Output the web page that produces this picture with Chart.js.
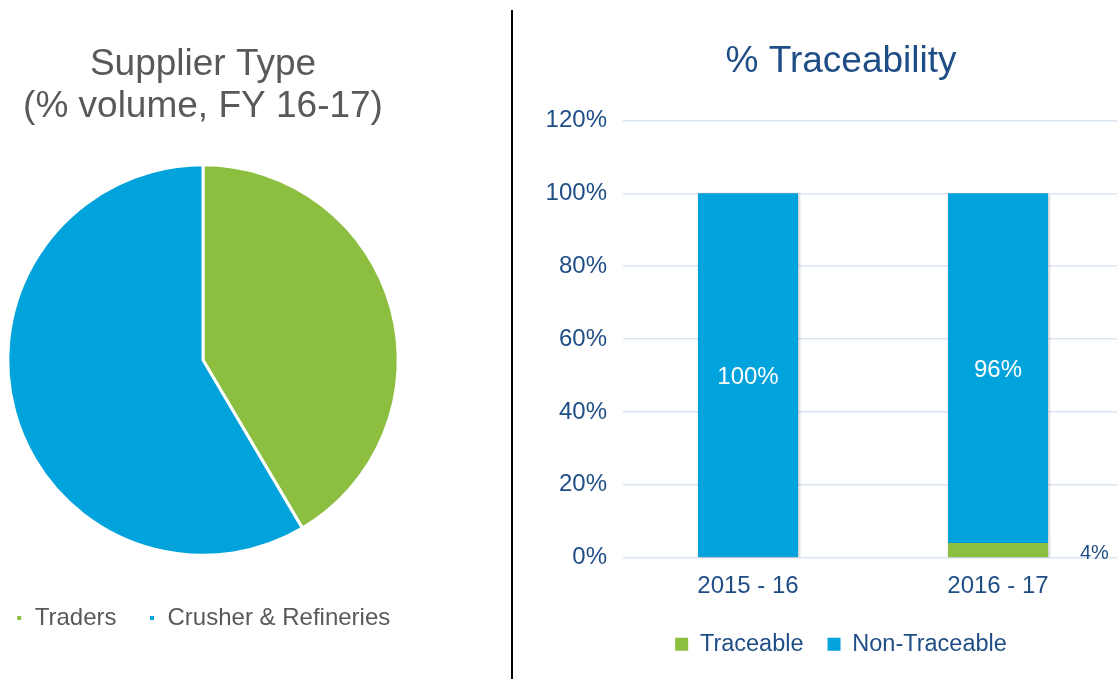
<!DOCTYPE html>
<html>
<head>
<meta charset="utf-8">
<script src="https://cdn.jsdelivr.net/npm/chart.js@4.4.0/dist/chart.umd.min.js"></script>
<style>
  html, body { margin: 0; padding: 0; background: #fff; width: 1117px; height: 679px; overflow: hidden; }
  #pieBox { position: absolute; left: -40px; top: 0; width: 486px; height: 679px; }
  #barBox { position: absolute; left: 514px; top: 0; width: 654px; height: 679px; }
  #divider { position: absolute; left: 511px; top: 10px; width: 2px; height: 669px; background: #000; }
</style>
</head>
<body>
<div id="pieBox"><canvas id="pieChart"></canvas></div>
<div id="divider"></div>
<div id="barBox"><canvas id="barChart"></canvas></div>
<script>
// datos del grafico
const supplierLabels = ['Traders', 'Crusher & Refineries'];
const supplierShare = [41.5, 58.5];
const years = ['2015 - 16', '2016 - 17'];
const traceable = [0, 4];
const nonTraceable = [100, 96];
const yTickValues = [0, 20, 40, 60, 80, 100, 120];

const GREEN = '#8cbe3f';
const BLUE = '#00a3db';
const GREY_TEXT = '#595959';
const NAVY = '#1f4e87';

Chart.defaults.font.family = '"Liberation Sans", Arial, Helvetica, sans-serif';
Chart.defaults.animation = false;
Chart.defaults.plugins.tooltip.enabled = false;

// grafico de pastel
new Chart(document.getElementById('pieChart'), {
  type: 'pie',
  data: {
    labels: supplierLabels,
    datasets: [{
      data: supplierShare,
      backgroundColor: [GREEN, BLUE],
      borderColor: '#fff',
      borderWidth: 3
    }]
  },
  options: {
    responsive: true,
    maintainAspectRatio: false,
    layout: { padding: { left: 0, right: 0, top: 0, bottom: 39 } },
    plugins: {
      title: {
        display: true,
        text: ['Supplier Type', '(% volume, FY 16-17)'],
        color: GREY_TEXT,
        font: { size: 37, weight: 'normal', lineHeight: 1.14 },
        padding: { top: 44, bottom: 35 }
      },
      legend: {
        position: 'bottom',
        // titulo vacio solo para separar la leyenda del pastel
        title: { display: true, text: '', font: { size: 1 }, padding: { top: 16, bottom: 0 } },
        labels: {
          color: GREY_TEXT,
          font: { size: 24 },
          boxWidth: 7,
          boxHeight: 7,
          padding: 32
        }
      }
    }
  }
});

// sombra suave en las barras
const barShadow = {
  id: 'barShadow',
  beforeDatasetsDraw(chart) {
    const ctx = chart.ctx;
    ctx.save();
    ctx.shadowColor = 'rgba(0,0,0,0.28)';
    ctx.shadowBlur = 3;
    ctx.shadowOffsetX = 1;
    ctx.shadowOffsetY = 1;
  },
  afterDatasetsDraw(chart) {
    chart.ctx.restore();
  }
};

// etiquetas de valor sobre las barras
const barLabels = {
  id: 'barLabels',
  afterDraw(chart) {
    const ctx = chart.ctx;
    ctx.save();
    ctx.textBaseline = 'middle';
    chart.data.datasets.forEach((ds, i) => {
      const meta = chart.getDatasetMeta(i);
      meta.data.forEach((bar, j) => {
        const v = ds.data[j];
        if (!v) return;
        const yMid = (bar.y + bar.base) / 2;
        if (v >= 10) {
          ctx.font = '24px "Liberation Sans", Arial, sans-serif';
          ctx.fillStyle = '#fff';
          ctx.textAlign = 'center';
          ctx.fillText(v + '%', bar.x, yMid + 2);
        } else {
          ctx.font = '20px "Liberation Sans", Arial, sans-serif';
          ctx.fillStyle = NAVY;
          ctx.textAlign = 'left';
          ctx.fillText(v + '%', bar.x + bar.width / 2 + 32, yMid + 3);
        }
      });
    });
    ctx.restore();
  }
};

// grafico de barras apiladas
new Chart(document.getElementById('barChart'), {
  type: 'bar',
  data: {
    labels: years,
    datasets: [
      { label: 'Traceable', data: traceable, backgroundColor: GREEN },
      { label: 'Non-Traceable', data: nonTraceable, backgroundColor: BLUE }
    ]
  },
  options: {
    responsive: true,
    maintainAspectRatio: false,
    categoryPercentage: 0.4,
    barPercentage: 1,
    layout: { padding: { left: 45, right: 45, top: 0, bottom: 13 } },
    scales: {
      x: {
        stacked: true,
        grid: { display: false, drawTicks: false },
        border: { display: false },
        afterFit(scale) { scale.height -= 6; },
        ticks: { color: NAVY, font: { size: 24 }, padding: 14 }
      },
      y: {
        stacked: true,
        min: 0,
        max: 120,
        afterFit(scale) {
          scale.width = 64;
          // las etiquetas son mas anchas que el eje: no recortarlas
          scale._computeLabelArea = () => undefined;
        },
        afterBuildTicks(scale) { scale.ticks = yTickValues.map(v => ({ value: v })); },
        grid: { color: '#dce6f2', lineWidth: 1.5, drawTicks: false },
        border: { display: false },
        ticks: { color: NAVY, font: { size: 24 }, padding: 16, callback: v => v + '%' }
      }
    },
    plugins: {
      title: {
        display: true,
        text: '% Traceability',
        color: NAVY,
        font: { size: 37, weight: 'normal', lineHeight: 1.2 },
        padding: { top: 40, bottom: 36 }
      },
      legend: {
        position: 'bottom',
        labels: {
          color: NAVY,
          font: { size: 23.5 },
          boxWidth: 13,
          boxHeight: 13,
          padding: 24
        }
      }
    }
  },
  plugins: [barShadow, barLabels]
});
</script>
</body>
</html>
